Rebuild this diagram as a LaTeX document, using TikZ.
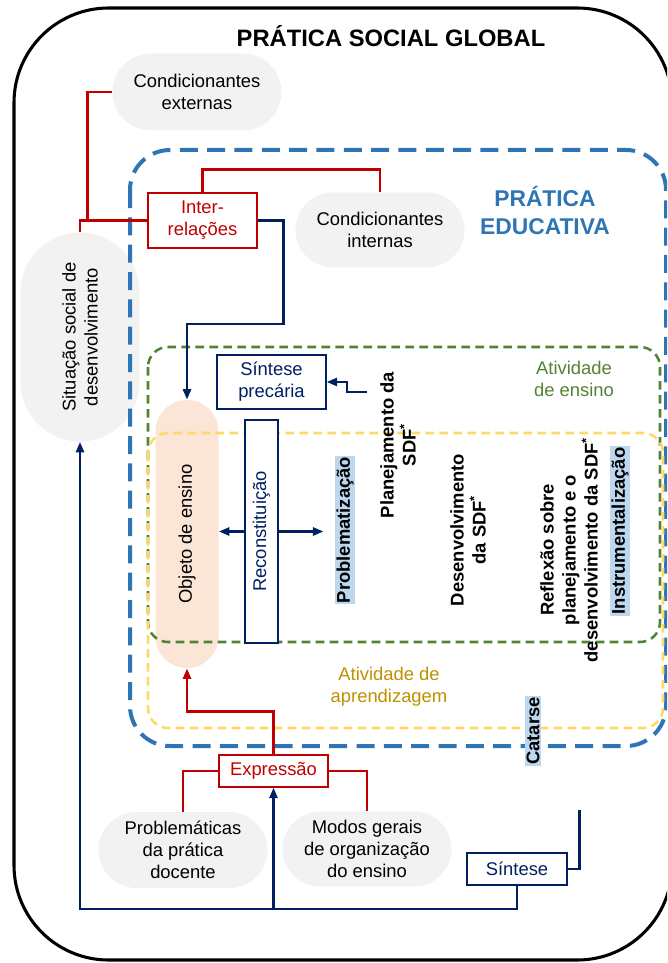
\documentclass[tikz,border=0pt]{standalone}
\usepackage{fontspec}
\setmainfont{Liberation Sans}
\usepackage{xcolor}
\usepackage{tikz}
\usetikzlibrary{shapes.misc}
\usetikzlibrary{arrows.meta}
\definecolor{pillgray}{HTML}{F2F2F2}
\definecolor{peach}{HTML}{FBE5D6}
\definecolor{redc}{HTML}{C00000}
\definecolor{navyc}{HTML}{002060}
\definecolor{pblue}{HTML}{2E75B6}
\definecolor{egreen}{HTML}{548235}
\definecolor{ayellow}{HTML}{FFD966}
\definecolor{agold}{HTML}{BF9000}
\definecolor{hlblue}{HTML}{BDD7EE}
\newcommand{\figfont}{\fontsize{13.8pt}{16.5pt}\selectfont}
\tikzstyle{pill} = [rounded rectangle, fill=pillgray, inner sep=0pt, align=center]
\tikzstyle{redbox} = [draw=redc, fill=white, line width=0.8pt, text=redc,
align=center, inner sep=0pt]
\tikzstyle{navybox} = [draw=navyc, fill=white, line width=0.8pt, text=navyc,
align=center, inner sep=0pt]
\tikzstyle{redlink} = [draw=redc, line width=2pt]
\tikzstyle{redarrow} = [redlink, -{Triangle[length=8pt,width=6pt]}]
\tikzstyle{navylink} = [draw=navyc, line width=2pt]
\tikzstyle{navyarrow} = [navylink, -{Triangle[length=8pt,width=6pt]}]
\tikzstyle{stage} = [rotate=90, font=\figfont\bfseries, align=center]
\tikzstyle{highlight} = [rotate=90, fill=hlblue, font=\figfont\bfseries, inner sep=1pt]

\begin{document}
\begin{tikzpicture}[x=0.75pt, y=-0.75pt, font=\figfont]
        \useasboundingbox (0,0) rectangle (667,963);
        \clip (0,0) rectangle (667,963);
        \draw[line width=2.3pt, rounded corners=71pt] (14,8) rectangle (672,960);
        \node[font=\fontsize{17.8pt}{20pt}\selectfont\bfseries] (social) at (391,36) {PRÁTICA SOCIAL GLOBAL};
        % pills
        \node[pill, minimum width=126.75pt, minimum height=57.75pt] (ext) at (197,92) {Condicionantes\\externas};
        \node[pill, minimum width=126.75pt, minimum height=56.25pt] (int) at (380,230) {Condicionantes\\internas};
        \node[pill, rotate=90, minimum width=156.75pt, minimum height=89.25pt] (sit) at (80,337) {Situação social de\\desenvolvimento};
        \node[pill, minimum width=126.75pt, minimum height=57pt] (prob) at (183,850) {Problemáticas\\da prática\\docente};
        \node[pill, minimum width=126.75pt, minimum height=56.25pt] (modos) at (367,849) {Modos gerais\\de organização\\do ensino};
        \node[pill, fill=peach, rotate=90, minimum width=201pt, minimum height=47.25pt] (obj) at (187,534) {Objeto de ensino};
        % dashed frames
        \draw[pblue, line width=3pt, dash pattern=on 13.5pt off 7pt, rounded corners=30pt] (130,150) rectangle (666,746);
        \draw[egreen, line width=1.9pt, dash pattern=on 6.5pt off 4pt, rounded corners=15pt] (148,347) rectangle (660,642);
        \draw[ayellow, line width=1.9pt, dash pattern=on 6.5pt off 4pt, rounded corners=15pt] (148,433) rectangle (663,728);
        \node[text=pblue, font=\fontsize{17.1pt}{21pt}\selectfont\bfseries, align=center] (edu) at (545,211) {PRÁTICA\\EDUCATIVA};
        \node[text=egreen, align=center] (ensino) at (574,379) {Atividade\\de ensino};
        \node[text=agold, align=center] (aprend) at (389,687) {Atividade de\\aprendizagem};
        % boxes
        \node[redbox, minimum width=81.75pt, minimum height=41.25pt] (inter) at (202.5,220.5) {Inter-\\relações};
        \node[navybox, minimum width=81.75pt, minimum height=40.5pt] (sprec) at (271.5,382) {Síntese\\precária};
        \node[navybox, rotate=90, minimum width=167.25pt, minimum height=24.75pt] (recon) at (261.5,531.5) {Reconstituição};
        \node[redbox, minimum width=81.75pt, minimum height=24pt] (expr) at (273.5,771) {Expressão};
        \node[navybox, minimum width=75pt, minimum height=24pt] (sint) at (517,869) {Síntese};
        % steps
        \node[highlight] (probl) at (345,530) {Problematização};
        \node[stage] (plan) at (398,445) {Planejamento da\\SDF\textsuperscript{*}};
        \node[stage] (desenv) at (468,530) {Desenvolvimento\\da SDF\textsuperscript{*}};
        \node[stage] (reflex) at (569,550) {Reflexão sobre\\planejamento e o\\desenvolvimento da SDF\textsuperscript{*}};
        \node[highlight] (instr) at (620,531) {Instrumentalização};
        \node[highlight] (catarse) at (533,731) {Catarse};
        % red links
        \draw[redlink] (sit.east) |- (inter.west);
        \draw[redlink] (ext.west) -- ++(-25,0) |- (inter.west);
        \draw[redlink] (inter.north) -- ++(0,-23) -| (int.north);
        \draw[redarrow] (expr.north) -- ++(0,-43) -| (obj.west);
        \draw[redlink] (expr.west) -| (prob.north);
        \draw[redlink] (expr.east) -| (modos.north);
        % navy links
        \coordinate (planfoot) at (367,392);
        \coordinate (bus) at (80,909);
        \draw[navyarrow] (inter.east) -- ++(26,0) -- ++(0,103.5) -| (obj.east);
        \draw[navyarrow] (planfoot) -- ++(-20,0) -- ++(0,-10) -- (sprec.east);
        \draw[navyarrow] (recon.north) -- (recon.north -| obj.south);
        \draw[navyarrow] (recon.south) -- ++(45,0);
        \draw[navyarrow] (sint.south) |- (bus) -- (sit.west);
        \draw[navyarrow] (expr.south |- bus) -- (expr.south);
        \draw[navylink] (sint.east) -- ++(12,0) -- ++(0,-59);
    \end{tikzpicture}
\end{document}
